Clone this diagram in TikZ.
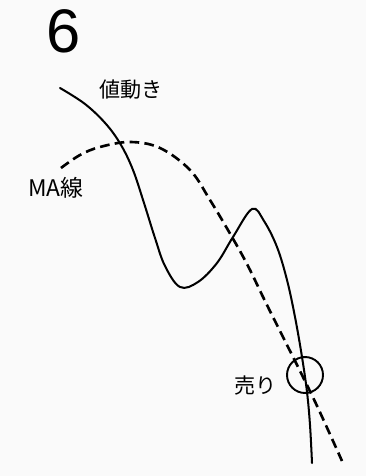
\documentclass[tikz,border=0pt]{standalone}
\usepackage{fontspec}
\setmainfont{Liberation Sans}
\newfontfamily\jpfont{Noto Sans CJK JP}
\usetikzlibrary{positioning}

\tikzset{
  price/.style={line width=1.15pt, line cap=round},
  maline/.style={line width=1.5pt, dash pattern=on 5.5pt off 3pt},
  marker/.style={draw, circle, line width=1.1pt, minimum size=0.72cm, inner sep=0pt},
  jplabel/.style={font=\jpfont\fontsize{12}{14}\selectfont, inner sep=0pt}
}

\begin{document}
\begin{tikzpicture}[x=0.02cm, y=-0.02cm]

% page
\useasboundingbox (0,0) rectangle (366,476);
\fill[gray!4] (0,0) rectangle (366,476);

% figure number
\node[inner sep=0pt, font=\fontsize{35}{37}\selectfont] (num) at (64,31) {6};

% price curve
\draw[price] plot[smooth, tension=0.6] coordinates {
  (60,88) (85,104) (106,124) (121,145) (133,170) (144,203) (155,238)
  (165,266) (180,287) (198,282) (217,263) (233,237) (252,209) (264,221)
  (277,247) (287,280) (295,317) (302,357) (307,392) (310,425) (312,463)};

% moving average
\draw[maline] plot[smooth, tension=0.6] coordinates {
  (61,168) (80,155) (100,147) (130,142) (160,148) (190,170) (210,200)
  (232,237) (248,266) (265,301) (283,337) (300,371) (318,408) (342,461)};

% sell point
\node[marker] (sell) at (305,375) {};

% labels
\node[jplabel] (price) at (131,90) {値動き};
\node[jplabel, font=\jpfont\fontsize{13}{15}\selectfont] (ma) at (56,188) {MA線};
\node[jplabel, left=5pt of sell, yshift=-0.2cm] (urilabel) {売り};

\end{tikzpicture}
\end{document}
